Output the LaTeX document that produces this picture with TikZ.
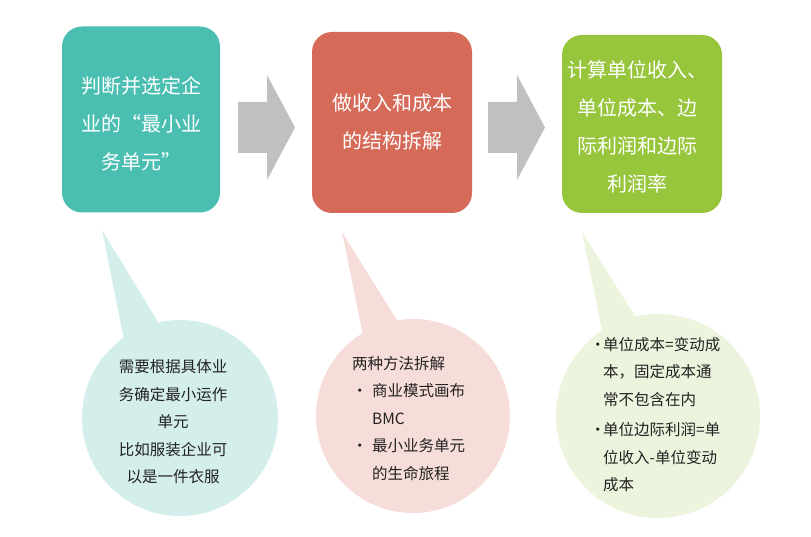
\documentclass[tikz,border=0pt]{standalone}
\usepackage{fontspec}
\setmainfont{Noto Sans CJK SC}
\definecolor{teal1}{HTML}{4ABFB1}
\definecolor{red1}{HTML}{D66A58}
\definecolor{green1}{HTML}{97C53B}
\definecolor{tealL}{HTML}{D4EEEB}
\definecolor{redL}{HTML}{F6DDD9}
\definecolor{greenL}{HTML}{ECF4DD}
\definecolor{arrowgray}{HTML}{C0C0C0}
\definecolor{txt}{HTML}{222222}
\tikzset{
  stepbox/.style={rounded corners=20pt, minimum width=#1, inner sep=0pt, text=white, align=center, font=\fontsize{20}{38}\selectfont},
  bubble/.style={circle, inner sep=0pt, minimum size=#1},
  bubtext/.style={text=txt, inner sep=0pt, font=\fontsize{15.5}{27.5}\selectfont},
  blockarrow/.style={fill=arrowgray, draw=none}
}
\begin{document}
\begin{tikzpicture}[x=1pt,y=-1pt]
\useasboundingbox (0,0) rectangle (811,537);
\fill[white] (0,0) rectangle (811,537);
% top boxes
\node[stepbox=158pt, minimum height=186pt, fill=teal1] (b1) at (141,119.5) {};
\node[stepbox=160pt, minimum height=181pt, fill=red1] (b2) at (392,122.5) {};
\node[stepbox=160pt, minimum height=178pt, fill=green1] (b3) at (642,124) {};
\node[stepbox=150pt, fill=none] (t1) at (141,124) {判断并选定企\\业的“最小业\\务单元”};
\node[stepbox=150pt, fill=none] (t2) at (392,122) {做收入和成本\\的结构拆解};
\node[stepbox=150pt, fill=none] (t3) at (637,127) {计算单位收入、\\单位成本、边\\际利润和边际\\利润率};
% block arrows
\fill[blockarrow] (238,102) -- (267,102) -- (267,75) -- (295,127.5) -- (267,180) -- (267,153) -- (238,153) -- cycle;
\fill[blockarrow] (488,102) -- (517,102) -- (517,75) -- (545,127.5) -- (517,180) -- (517,153) -- (488,153) -- cycle;
% bubbles
\coordinate (k1) at (102,230);
\coordinate (k2) at (342,232);
\coordinate (k3) at (582,232);
\fill[tealL] (k1) -- (124,340) -- (158,322) -- cycle;
\fill[redL] (k2) -- (364,340) -- (398,322) -- cycle;
\fill[greenL] (k3) -- (604,340) -- (640,324) -- cycle;
\node[bubble=196pt, fill=tealL] (c1) at (180,418) {};
\node[bubble=194pt, fill=redL] (c2) at (413,416) {};
\node[bubble=204pt, fill=greenL] (c3) at (658,416) {};
% bubble texts
\node[bubtext, align=center] (u1) at (173,422) {需要根据具体业\\务确定最小运作\\单元\\比如服装企业可\\以是一件衣服};
\node[bubtext, align=left, anchor=north west] (u2) at (352,356) {两种方法拆解\\
\makebox[20pt][l]{•}商业模式画布\\
\hspace*{20pt}BMC\\
\makebox[20pt][l]{•}最小业务单元\\
\hspace*{20pt}的生命旅程};
\node[bubtext, align=left, anchor=north west] (u3) at (590,337) {\makebox[13pt][l]{•}单位成本=变动成\\
\hspace*{13pt}本，固定成本通\\
\hspace*{13pt}常不包含在内\\[3pt]
\makebox[13pt][l]{•}单位边际利润=单\\
\hspace*{13pt}位收入-单位变动\\
\hspace*{13pt}成本};
\end{tikzpicture}
\end{document}
